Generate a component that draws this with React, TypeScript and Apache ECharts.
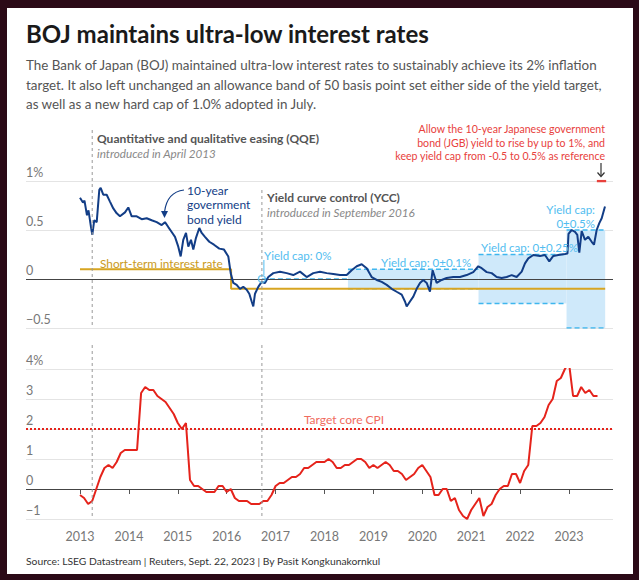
import React, { useEffect, useRef } from "react";
import * as echarts from "echarts";

const FONT = "Lato, 'Noto Sans', 'DejaVu Sans', sans-serif";

// ---------------- data ----------------
const yearTicks = [2013, 2014, 2015, 2016, 2017, 2018, 2019, 2020, 2021, 2022, 2023];

// 10-year JGB yield (%), time as decimal year
const jgbTimes = [
  2013.000, 2013.061, 2013.092, 2013.143, 2013.174, 2013.225, 2013.252, 2013.292, 2013.342, 2013.395,
  2013.423, 2013.476, 2013.546, 2013.613, 2013.681, 2013.751, 2013.818, 2013.920, 2013.988,
  2014.057, 2014.160, 2014.262, 2014.364, 2014.466, 2014.569, 2014.671, 2014.738, 2014.806, 2014.875, 2014.943,
  2015.010, 2015.059, 2015.112, 2015.168, 2015.215, 2015.270, 2015.317, 2015.372, 2015.440, 2015.489,
  2015.556, 2015.644, 2015.740, 2015.849, 2015.945,
  2016.033, 2016.082, 2016.135, 2016.204, 2016.272, 2016.339, 2016.409, 2016.462, 2016.511, 2016.544,
  2016.579, 2016.646, 2016.716, 2016.783, 2016.851, 2016.953,
  2017.090, 2017.227, 2017.362, 2017.499, 2017.636, 2017.771, 2017.908,
  2018.045, 2018.180, 2018.317, 2018.454, 2018.556, 2018.659, 2018.761, 2018.863, 2018.965,
  2019.067, 2019.170, 2019.272, 2019.374, 2019.476, 2019.579, 2019.646, 2019.681, 2019.748, 2019.816,
  2019.885, 2019.953,
  2020.020, 2020.090, 2020.157, 2020.211, 2020.294, 2020.396, 2020.498, 2020.634, 2020.771, 2020.908,
  2021.043, 2021.145, 2021.215, 2021.317, 2021.419, 2021.521, 2021.624, 2021.726, 2021.828, 2021.930,
  2022.033, 2022.100, 2022.168, 2022.270, 2022.407, 2022.509, 2022.597, 2022.679, 2022.781, 2022.918,
  2022.969, 2022.990,
  2023.055, 2023.123, 2023.170, 2023.211, 2023.260, 2023.327, 2023.395, 2023.464, 2023.511, 2023.566,
  2023.620, 2023.669, 2023.736,
];
const jgbYields = [
  0.83, 0.78, 0.80, 0.65, 0.70, 0.53, 0.45, 0.60, 0.58, 0.91,
  0.93, 0.86, 0.86, 0.79, 0.72, 0.67, 0.64, 0.68, 0.73,
  0.64, 0.64, 0.61, 0.62, 0.60, 0.58, 0.55, 0.58, 0.53, 0.48, 0.43,
  0.33, 0.23, 0.40, 0.47, 0.33, 0.40, 0.30, 0.42, 0.52, 0.47,
  0.43, 0.38, 0.35, 0.31, 0.30,
  0.23, 0.06, -0.04, -0.06, -0.10, -0.08, -0.11, -0.15, -0.23, -0.28,
  -0.15, -0.08, -0.03, -0.04, 0.02, 0.06,
  0.075, 0.06, 0.04, 0.075, 0.02, 0.06, 0.075,
  0.06, 0.05, 0.04, 0.04, 0.09, 0.13, 0.15, 0.11, 0.02,
  -0.01, -0.03, -0.06, -0.10, -0.13, -0.16, -0.23, -0.28, -0.23, -0.18,
  -0.10, -0.04,
  -0.01, -0.04, -0.13, 0.09, -0.04, -0.01, 0.01, 0.02, 0.02, 0.04,
  0.07, 0.13, 0.11, 0.07, 0.06, 0.02, 0.01, 0.02, 0.04, 0.02,
  0.075, 0.16, 0.21, 0.245, 0.235, 0.245, 0.18, 0.235, 0.245, 0.255,
  0.26, 0.46,
  0.50, 0.48, 0.45, 0.27, 0.49, 0.40, 0.43, 0.38, 0.35, 0.50,
  0.57, 0.62, 0.74,
];

// short-term policy rate (%)
const policyRateTimes = [2013.0, 2016.09, 2016.09, 2023.74];
const policyRateValues = [0.1, 0.1, -0.1, -0.1];

// yield curve control bands
const capStarts = [2016.72, 2018.48, 2021.15, 2022.95];
const capEnds = [2018.48, 2021.15, 2022.95, 2023.74];
const capWidths = [0, 0.1, 0.25, 0.5];

// new hard cap marker
const hardCapTimes = [2023.57, 2023.76];
const hardCapValue = 1.0;

// core CPI y/y (%), monthly from Jan 2013
const cpiStartYear = 2013;
const cpiValues = [
  -0.2, -0.3, -0.5, -0.4, 0.0, 0.4, 0.7, 0.8, 0.7, 0.9, 1.2, 1.3,
  1.3, 1.3, 1.3, 3.2, 3.4, 3.3, 3.3, 3.1, 3.0, 2.9, 2.7, 2.5,
  2.2, 2.0, 2.2, 0.3, 0.1, 0.1, 0.0, -0.1, -0.1, -0.1, 0.1, 0.1,
  -0.1, 0.0, -0.3, -0.4, -0.4, -0.4, -0.5, -0.5, -0.5, -0.4, -0.4, -0.2,
  0.1, 0.2, 0.2, 0.3, 0.4, 0.4, 0.5, 0.7, 0.7, 0.8, 0.9, 0.9,
  0.9, 1.0, 0.9, 0.7, 0.7, 0.8, 0.8, 0.9, 1.0, 1.0, 0.9, 0.7,
  0.8, 0.7, 0.8, 0.9, 0.8, 0.6, 0.6, 0.5, 0.3, 0.4, 0.5, 0.7,
  0.8, 0.6, 0.4, -0.2, -0.2, 0.0, 0.0, -0.4, -0.3, -0.7, -0.9, -1.0,
  -0.7, -0.5, -0.3, -0.9, -0.6, -0.5, -0.2, 0.0, 0.1, 0.1, 0.5, 0.5,
  0.2, 0.6, 0.8, 2.1, 2.1, 2.2, 2.4, 2.8, 3.0, 3.6, 3.7, 4.0,
  4.2, 3.1, 3.1, 3.4, 3.2, 3.3, 3.1, 3.1,
];
const cpiTarget = 2;

const qqeTime = 2013.25;
const yccTime = 2016.72;

const X_MIN = 2011.896;
const X_MAX = 2023.9;

// ---------------- styles ----------------
const NAVY = "#123d86";
const GOLD = "#d7a521";
const RED = "#e5231b";
const CAP_LINE = "#3fb6ee";
const CAP_FILL = "#cfe9fa";
const CAP_TEXT = "#52bdf0";
const GRID = "#e4e4e4";
const AXIS_TXT = "#777";
const BORDER = "#2b0a17";

const minus = (v: number) => (v < 0 ? "\u2212" + Math.abs(v) : String(v));

function buildOption() {
  const series: any[] = [];

  const bandData = capWidths
    .map((b, i) => (b > 0 ? [{ coord: [capStarts[i], b] }, { coord: [capEnds[i], -b] }] : null))
    .filter(Boolean);
  series.push({
    type: "line",
    xAxisIndex: 0,
    yAxisIndex: 0,
    data: [[capStarts[0], 0]],
    showSymbol: false,
    lineStyle: { width: 0 },
    silent: true,
    z: 1,
    markArea: { silent: true, itemStyle: { color: CAP_FILL }, data: bandData },
  });

  series.push({
    type: "line",
    xAxisIndex: 0,
    yAxisIndex: 0,
    data: [],
    silent: true,
    z: 3,
    markLine: {
      silent: true,
      symbol: ["none", "none"],
      label: { show: false },
      lineStyle: { color: "#444", width: 1, type: "solid" },
      data: [{ yAxis: 0 }],
    },
  });

  capWidths.forEach((b, i) => {
    const levels = b > 0 ? [b, -b] : [0];
    levels.forEach((lv) => {
      series.push({
        type: "line",
        xAxisIndex: 0,
        yAxisIndex: 0,
        data: [
          [capStarts[i], lv],
          [capEnds[i], lv],
        ],
        showSymbol: false,
        silent: true,
        z: 4,
        lineStyle: { color: CAP_LINE, width: 1.5, type: [5, 3] },
      });
    });
  });

  series.push({
    type: "line",
    xAxisIndex: 0,
    yAxisIndex: 0,
    data: policyRateTimes.map((t, i) => [t, policyRateValues[i]]),
    showSymbol: false,
    silent: true,
    z: 4,
    lineStyle: { color: GOLD, width: 2 },
  });

  series.push({
    type: "line",
    xAxisIndex: 0,
    yAxisIndex: 0,
    data: hardCapTimes.map((t) => [t, hardCapValue]),
    showSymbol: false,
    silent: true,
    z: 4,
    lineStyle: { color: "#e8413c", width: 2.5 },
  });

  series.push({
    type: "line",
    xAxisIndex: 0,
    yAxisIndex: 0,
    data: jgbTimes.map((t, i) => [t, jgbYields[i]]),
    showSymbol: false,
    silent: true,
    z: 6,
    lineStyle: { color: NAVY, width: 2 },
  });

  series.push({
    type: "scatter",
    xAxisIndex: 0,
    yAxisIndex: 0,
    data: [[yccTime, 0]],
    symbol: "circle",
    symbolSize: 7,
    silent: true,
    z: 7,
    itemStyle: { color: "rgba(255,255,255,0.2)", borderColor: CAP_TEXT, borderWidth: 1.5 },
  });

  series.push({
    type: "line",
    xAxisIndex: 1,
    yAxisIndex: 1,
    data: cpiValues.map((v, i) => [cpiStartYear + i / 12, v]),
    showSymbol: false,
    silent: true,
    z: 5,
    lineStyle: { color: RED, width: 2 },
    markLine: {
      silent: true,
      symbol: ["none", "none"],
      label: { show: false },
      data: [
        { yAxis: 0, lineStyle: { color: "#444", width: 1, type: "solid" } },
        { yAxis: cpiTarget, lineStyle: { color: RED, width: 2, type: [2, 2] } },
      ],
    },
  });

  const yLabel = {
    inside: true,
    margin: 0,
    align: "left",
    verticalAlign: "bottom",
    padding: [0, 0, 2, 0],
    color: AXIS_TXT,
    fontSize: 12.5,
    fontFamily: FONT,
  };

  return {
    animation: false,
    backgroundColor: "#fff",
    textStyle: { fontFamily: FONT },
    grid: [
      { left: 26, right: 26, top: 181, height: 147 },
      { left: 26, right: 26, top: 369, height: 150 },
    ],
    xAxis: [
      { type: "value", gridIndex: 0, min: X_MIN, max: X_MAX, show: false },
      {
        type: "value",
        gridIndex: 1,
        min: X_MIN,
        max: X_MAX,
        axisLine: { show: false },
        splitLine: { show: false },
        axisTick: { show: true, customValues: yearTicks, length: 5, lineStyle: { color: "#555" } },
        axisLabel: {
          customValues: yearTicks,
          formatter: (v: number) => String(Math.round(v)),
          color: AXIS_TXT,
          fontSize: 12.5,
          margin: 11,
          fontFamily: FONT,
        },
      },
    ],
    yAxis: [
      {
        type: "value",
        gridIndex: 0,
        min: -0.5,
        max: 1,
        interval: 0.5,
        axisLine: { show: false },
        axisTick: { show: false },
        splitLine: { lineStyle: { color: GRID } },
        axisLabel: { ...yLabel, formatter: (v: number) => (v === 1 ? "1%" : minus(v)) },
      },
      {
        type: "value",
        gridIndex: 1,
        min: -1,
        max: 4,
        interval: 1,
        axisLine: { show: false },
        axisTick: { show: false },
        splitLine: { lineStyle: { color: GRID } },
        axisLabel: { ...yLabel, formatter: (v: number) => (v === 4 ? "4%" : minus(v)) },
      },
    ],
    series,
  };
}

const txt = (text: string, x: number, y: number, o: any = {}) => ({
  type: "text",
  x,
  y,
  z: 50,
  silent: true,
  style: {
    text,
    fontFamily: FONT,
    fontSize: o.size ?? 12,
    fontWeight: o.weight ?? "normal",
    fontStyle: o.italic ? "italic" : "normal",
    fill: o.color ?? "#333",
    align: o.align ?? "left",
    verticalAlign: "middle",
    lineHeight: o.lh,
  },
});

function buildGraphics(px: (t: number) => number, pyTop: (v: number) => number, pyBot: (v: number) => number) {
  const g: any[] = [];
  const dash = { stroke: "#9a9a9a", lineWidth: 1, lineDash: [3, 3] };
  const xq = px(qqeTime);
  const xy = px(yccTime);
  const topBottom = pyTop(-0.5);
  const botBottom = pyBot(-1);
  g.push({ type: "line", z: 20, silent: true, shape: { x1: xq, y1: 130, x2: xq, y2: topBottom }, style: dash });
  g.push({ type: "line", z: 20, silent: true, shape: { x1: xq, y1: 345, x2: xq, y2: botBottom }, style: dash });
  g.push({ type: "line", z: 20, silent: true, shape: { x1: xy, y1: 190, x2: xy, y2: topBottom }, style: dash });
  g.push({ type: "line", z: 20, silent: true, shape: { x1: xy, y1: 345, x2: xy, y2: botBottom }, style: dash });

  // title + subtitle
  g.push(txt("BOJ maintains ultra-low interest rates", 26, 33, { size: 24, weight: "bold", color: "#1a1a1a" }));
  g.push(
    txt(
      "The Bank of Japan (BOJ) maintained ultra-low interest rates to sustainably achieve its 2% inflation\n" +
        "target. It also left unchanged an allowance band of 50 basis point set either side of the yield target,\n" +
        "as well as a new hard cap of 1.0% adopted in July.",
      26,
      84.5,
      { size: 13.4, color: "#555", lh: 19.5 }
    )
  );

  // QQE / YCC annotations
  g.push(txt("Quantitative and qualitative easing (QQE)", 97, 138, { size: 12, weight: "bold", color: "#555" }));
  g.push(txt("introduced in April 2013", 97, 152.5, { size: 11.7, italic: true, color: "#888" }));
  g.push(txt("Yield curve control (YCC)", 267, 197, { size: 12, weight: "bold", color: "#555" }));
  g.push(txt("introduced in September 2016", 267, 211.5, { size: 11.7, italic: true, color: "#888" }));

  // red annotation
  g.push(
    txt(
      "Allow the 10-year Japanese government\nbond (JGB) yield to rise by up to 1%, and\nkeep yield cap from -0.5 to 0.5% as reference",
      605,
      142.5,
      { size: 10.6, color: "#e8413c", align: "right", lh: 13.5 }
    )
  );
  g.push({ type: "line", z: 30, silent: true, shape: { x1: 601, y1: 163, x2: 601, y2: 176 }, style: { stroke: "#333", lineWidth: 1.2 } });
  g.push({ type: "polyline", z: 30, silent: true, shape: { points: [[597.5, 172.5], [601, 176.5], [604.5, 172.5]] }, style: { stroke: "#333", lineWidth: 1.2, fill: null } });

  // 10-year label + arrow
  g.push(txt("10-year\ngovernment\nbond yield", 187, 204.5, { size: 12, color: NAVY, lh: 14.5 }));
  g.push({ type: "bezierCurve", z: 30, silent: true, shape: { x1: 184, y1: 190, cpx1: 167, cpy1: 192, x2: 164.5, y2: 212 }, style: { stroke: NAVY, lineWidth: 1.2, fill: null } });
  g.push({ type: "polygon", z: 30, silent: true, shape: { points: [[161, 211], [168, 211], [164.5, 218]] }, style: { fill: NAVY } });

  // short-term label
  g.push(txt("Short-term interest rate", 100, 263, { size: 11.8, color: "#c99a1c" }));

  // yield cap labels
  g.push(txt("Yield cap: 0%", 264, 255, { size: 11.5, color: CAP_TEXT }));
  g.push({ type: "line", z: 30, silent: true, shape: { x1: xy + 2, y1: 260, x2: xy + 2, y2: pyTop(0) - 4 }, style: { stroke: CAP_TEXT, lineWidth: 1 } });
  g.push(txt("Yield cap: 0\u00b10.1%", 381, 262, { size: 11.5, color: CAP_TEXT }));
  g.push(txt("Yield cap: 0\u00b10.25%", 481, 247, { size: 11.5, color: CAP_TEXT }));
  g.push(txt("Yield cap:\n0\u00b10.5%", 595, 216.5, { size: 11.5, color: CAP_TEXT, align: "right", lh: 13.8 }));

  // target label
  g.push(txt("Target core CPI", 344, 419, { size: 12, color: "#f06b5e", align: "center" }));

  // source
  g.push(txt("Source: LSEG Datastream | Reuters, Sept. 22, 2023 | By Pasit Kongkunakornkul", 26, 561, { size: 10.3, color: "#333" }));

  // frame
  const fr = (x: number, y: number, w: number, h: number) => ({ type: "rect", z: 100, silent: true, shape: { x, y, width: w, height: h }, style: { fill: BORDER } });
  g.push(fr(0, 0, 639, 8), fr(0, 574, 639, 6), fr(0, 0, 7, 580), fr(633, 0, 6, 580));
  return g;
}

export default function App() {
  const ref = useRef<HTMLDivElement>(null);
  useEffect(() => {
    const chart = echarts.init(ref.current!, null, { renderer: "svg" });
    chart.setOption(buildOption() as any);
    const px = (t: number) => chart.convertToPixel({ xAxisIndex: 0 }, t) as unknown as number;
    const pyTop = (v: number) => chart.convertToPixel({ yAxisIndex: 0 }, v) as unknown as number;
    const pyBot = (v: number) => chart.convertToPixel({ yAxisIndex: 1 }, v) as unknown as number;
    chart.setOption({ graphic: buildGraphics(px, pyTop, pyBot) } as any);
    return () => chart.dispose();
  }, []);
  return <div ref={ref} style={{ position: "absolute", left: 0, top: 0, width: 639, height: 580 }} />;
}
